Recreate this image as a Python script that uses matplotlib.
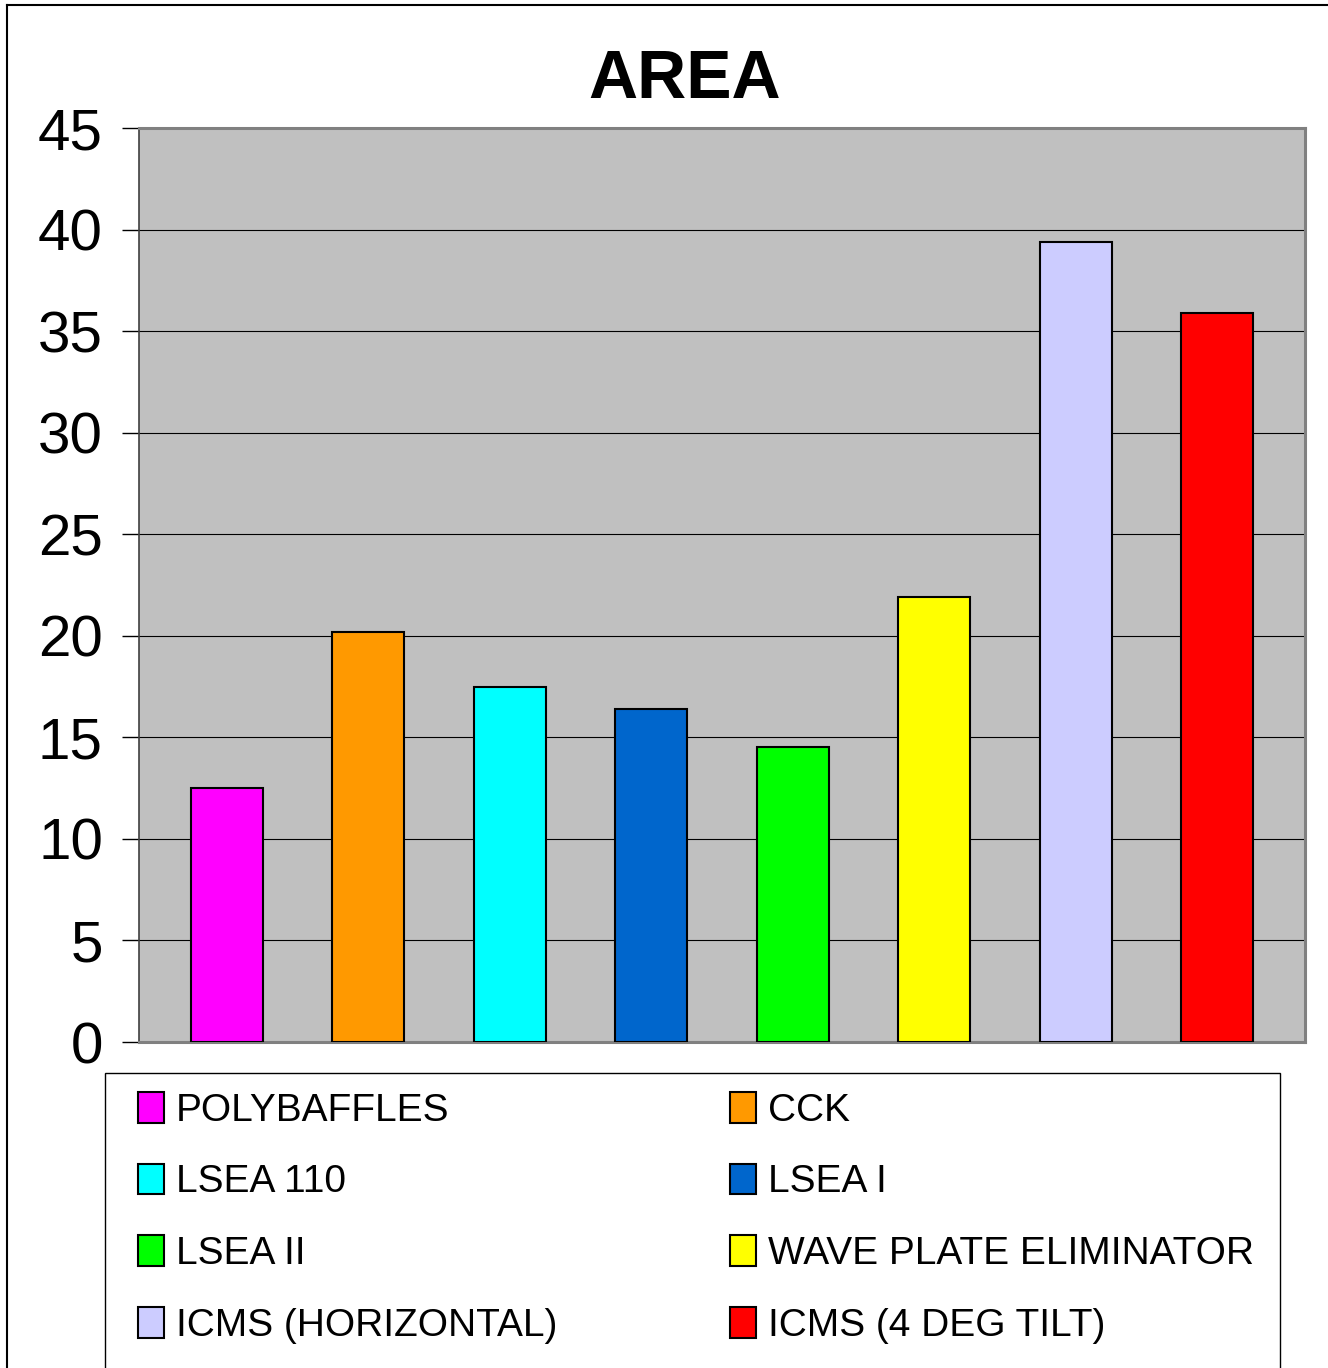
import matplotlib.pyplot as plt
from matplotlib.patches import Patch, Rectangle
from matplotlib.lines import Line2D

# series (one bar each)
names = ['POLYBAFFLES', 'CCK', 'LSEA 110', 'LSEA I', 'LSEA II',
         'WAVE PLATE ELIMINATOR', 'ICMS (HORIZONTAL)', 'ICMS (4 DEG TILT)']
values = [12.5, 20.2, 17.5, 16.4, 14.5, 21.9, 39.4, 35.9]
colors = ['#FF00FF', '#FF9900', '#00FFFF', '#0066CC', '#00FF00',
          '#FFFF00', '#CCCCFF', '#FF0000']
yticks = [0, 5, 10, 15, 20, 25, 30, 35, 40, 45]

plt.rcParams['font.family'] = ['Liberation Sans', 'DejaVu Sans']

W, H = 1328, 1368
fig = plt.figure(figsize=(W / 100, H / 100), dpi=100)
ax = fig.add_axes([139 / W, 1 - 1042 / H, (1305 - 139) / W, (1042 - 128) / H])
ax.set_facecolor('#C0C0C0')

xs = list(range(len(values)))
ax.bar(xs, values, width=0.51, color=colors, edgecolor='black', linewidth=1.5, zorder=3)

ax.set_xlim(-0.62, 7.62)
ax.set_ylim(0, 45)
ax.set_yticks(yticks)
ax.set_yticklabels([str(t) for t in yticks], fontsize=42)
ax.set_xticks([])
ax.tick_params(axis='y', length=12, width=1, color='black', pad=14)
ax.grid(axis='y', color='black', linewidth=0.8, zorder=1)
ax.set_axisbelow(True)

for s in ['top', 'right', 'bottom']:
    ax.spines[s].set_color('#808080')
    ax.spines[s].set_linewidth(2.2)
ax.spines['left'].set_color('#404040')
ax.spines['left'].set_linewidth(1.2)

fig.text(685 / W, 1 - 80 / H, 'AREA', fontsize=49, fontweight='bold',
         ha='center', va='center')

# legend frame
fig.add_artist(Rectangle((105 / W, -0.01), (1280 - 105) / W, 0.01 + 1 - 1073 / H,
                         transform=fig.transFigure, facecolor='white',
                         edgecolor='black', linewidth=1.0))

# legend, row-wise order in two columns
order = [0, 2, 4, 6, 1, 3, 5, 7]
handles = [Patch(facecolor=colors[i], edgecolor='black', linewidth=1.5) for i in order]
labels = [names[i] for i in order]
leg = fig.legend(handles, labels, ncol=2, fontsize=28,
                 bbox_to_anchor=(138 / W, 1 - 1092 / H),
                 loc='upper left', frameon=False,
                 handlelength=0.67, handleheight=0.83,
                 handletextpad=0.3, labelspacing=0.9, borderpad=0,
                 borderaxespad=0, columnspacing=4.45)

# outer chart border
fig.add_artist(Line2D([7 / W, 7 / W], [0, 1 - 5 / H], color='black', linewidth=1.5))
fig.add_artist(Line2D([7 / W, 1327 / W], [1 - 5 / H, 1 - 5 / H], color='black', linewidth=1.5))

fig.savefig('out.png', dpi=100)
